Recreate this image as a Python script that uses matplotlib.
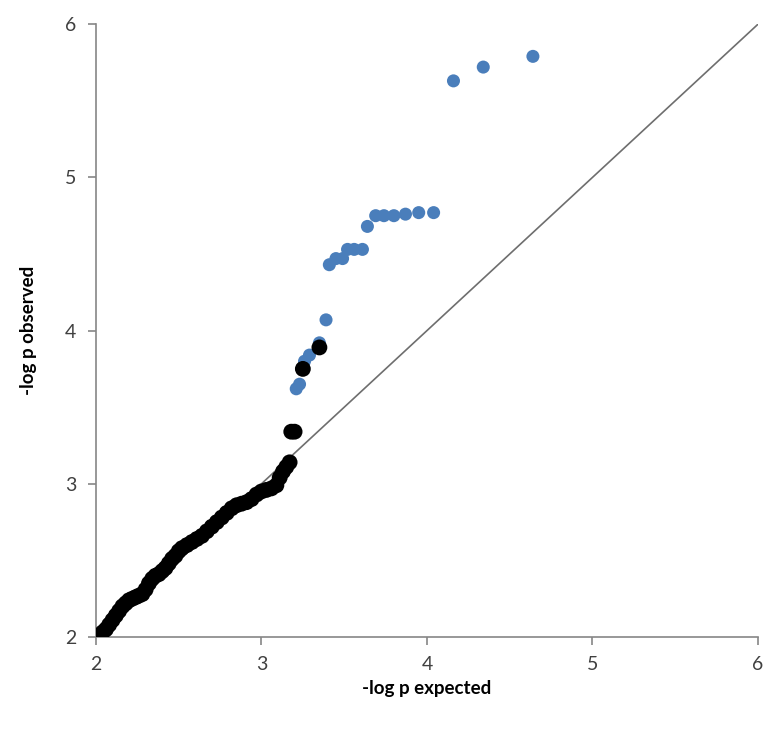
import numpy as np
import matplotlib
matplotlib.use("Agg")
import matplotlib.pyplot as plt

# expected vs observed -log p
exp_black = [2.02, 2.04, 2.06, 2.08, 2.10, 2.12, 2.14, 2.16, 2.18, 2.20,
             2.22, 2.24, 2.26, 2.28, 2.30, 2.32, 2.34, 2.36, 2.38, 2.40,
             2.42, 2.44, 2.46, 2.48, 2.50, 2.52, 2.55, 2.58, 2.61, 2.64,
             2.67, 2.70, 2.73, 2.76, 2.79, 2.82, 2.85, 2.88, 2.91, 2.94,
             2.97, 3.00, 3.03, 3.06, 3.09, 3.11, 3.13, 3.15, 3.17,
             3.18, 3.20, 3.25, 3.35]
obs_black = [2.01, 2.03, 2.05, 2.08, 2.11, 2.14, 2.17, 2.20, 2.22, 2.24,
             2.25, 2.26, 2.27, 2.28, 2.31, 2.35, 2.38, 2.40, 2.41, 2.43,
             2.45, 2.48, 2.51, 2.53, 2.56, 2.58, 2.60, 2.62, 2.64, 2.66,
             2.69, 2.72, 2.75, 2.78, 2.81, 2.84, 2.86, 2.87, 2.88, 2.90,
             2.93, 2.95, 2.96, 2.97, 2.99, 3.04, 3.08, 3.11, 3.14,
             3.34, 3.34, 3.75, 3.89]

exp_blue = [3.21, 3.23, 3.26, 3.29, 3.35, 3.39, 3.41, 3.45, 3.49, 3.52,
            3.56, 3.61, 3.64, 3.69, 3.74, 3.80, 3.87, 3.95, 4.04,
            4.16, 4.34, 4.64]
obs_blue = [3.62, 3.65, 3.80, 3.84, 3.92, 4.07, 4.43, 4.47, 4.47, 4.53,
            4.53, 4.53, 4.68, 4.75, 4.75, 4.75, 4.76, 4.77, 4.77,
            5.63, 5.72, 5.79]

ref_line = [2, 6]

plt.rcParams['font.family'] = ['Lato', 'DejaVu Sans']

fig = plt.figure(figsize=(7.69, 7.33), dpi=100)
ax = fig.add_axes([0.1248, 0.131, 0.8609, 0.836])

ax.plot(ref_line, ref_line, color='#6e6e6e', lw=1.2, zorder=1)
ax.scatter(exp_black, obs_black, s=130, color='black', edgecolors='none', zorder=3)
ax.scatter(exp_blue, obs_blue, s=88, color='#4a7ebb', edgecolors='none', zorder=2)

ax.set_xlim(2, 6)
ax.set_ylim(2, 6)
ax.set_xticks([2, 3, 4, 5, 6])
ax.set_yticks([2, 3, 4, 5, 6])

for side in ['top', 'right']:
    ax.spines[side].set_visible(False)
for side in ['left', 'bottom']:
    ax.spines[side].set_color('#868686')
    ax.spines[side].set_linewidth(1.2)
ax.tick_params(direction='out', length=6, width=1.2, color='#868686',
               labelsize=14, labelcolor='#404040', pad=8)

ax.set_xlabel('-log p expected', fontsize=13.5, fontweight='bold', labelpad=5)
ax.set_ylabel('-log p observed', fontsize=13.5, fontweight='bold', labelpad=20)

fig.savefig('out.png', dpi=100)
